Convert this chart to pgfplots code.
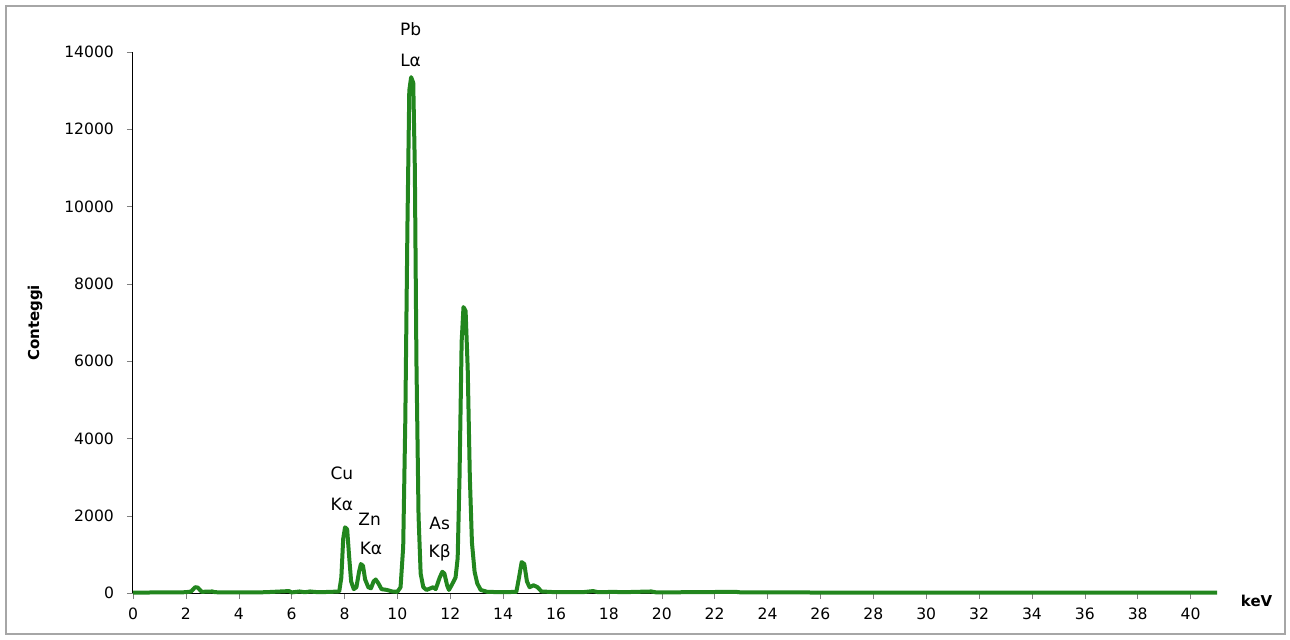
\documentclass[border=0pt]{standalone}
\usepackage{pgfplots}
\pgfplotsset{compat=1.18}
\usepackage{fontspec}
\setmainfont{DejaVu Sans}
\definecolor{sg}{RGB}{34,134,30}
\begin{document}
\begin{tikzpicture}
\useasboundingbox (-66.5pt,-23pt) rectangle (578.5pt,296.5pt);
\draw[gray!70,line width=0.8pt] (-63.5pt,-20.5pt) rectangle (576pt,293.5pt);
\begin{axis}[at={(0,0)},anchor=origin,scale only axis,width=542pt,height=270.5pt,
 xmin=0,xmax=41,ymin=0,ymax=14000,
 axis x line=bottom, axis y line=left, axis line style={-,line width=0.5pt},
 xtick={0,2,...,40}, ytick={0,2000,...,14000},
 tick align=outside, major tick length=3pt,
 tick label style={font=\fontsize{7.8}{9}\selectfont},
 /pgf/number format/assume math mode=true,
 scaled y ticks=false, yticklabel style={/pgf/number format/1000 sep={},xshift=-3pt},
 xticklabel style={yshift=-1pt},
 clip=false]
\addplot[sg,line width=2pt,line join=round] coordinates {
(0,10)(1,15)(2,20)(2.2,40)(2.35,150)(2.45,140)(2.6,30)(3,40)(3.1,20)(4,15)(5,20)(5.9,50)(6,15)(6.3,40)(6.5,20)(6.7,40)(7,20)(7.5,30)(7.8,40)
(7.88,400)(7.95,1400)(8.02,1700)(8.1,1650)(8.18,900)(8.25,300)(8.35,100)(8.45,150)(8.55,550)(8.62,750)(8.7,700)(8.78,350)(8.9,150)(9.0,120)
(9.1,300)(9.18,350)(9.28,250)(9.4,100)(9.6,80)(9.8,40)(10.0,30)(10.12,150)(10.22,1200)(10.3,4500)(10.38,9500)(10.45,13000)(10.52,13350)(10.6,13200)(10.66,11000)(10.72,6000)(10.8,2000)(10.88,500)(10.98,150)(11.1,80)
(11.25,120)(11.35,150)(11.45,100)(11.6,400)(11.7,550)(11.78,500)(11.88,200)(11.95,80)(12.05,200)(12.2,400)(12.28,900)(12.35,3000)(12.43,6500)(12.5,7400)(12.58,7300)(12.66,5800)(12.74,3000)(12.82,1300)(12.92,550)(13.02,250)(13.15,80)(13.4,30)
(14,20)(14.5,30)(14.6,400)(14.7,800)(14.8,750)(14.9,300)(15.0,150)(15.15,200)(15.3,150)(15.45,40)(16,20)(17,20)(17.4,50)(17.6,20)(18.2,30)(18.5,20)(19.6,40)(19.8,15)(22.8,30)(23,15)(30,10)(41,10)};
\node[font=\fontsize{8.5}{10}\selectfont] at (axis cs:10.5,14580) {Pb};
\node[font=\fontsize{8.5}{10}\selectfont] at (axis cs:10.5,13780) {Lα};
\node[font=\fontsize{8.5}{10}\selectfont] at (axis cs:7.9,3100) {Cu};
\node[font=\fontsize{8.5}{10}\selectfont] at (axis cs:7.9,2300) {Kα};
\node[font=\fontsize{8.5}{10}\selectfont] at (axis cs:8.95,1900) {Zn};
\node[font=\fontsize{8.5}{10}\selectfont] at (axis cs:9.0,1150) {Kα};
\node[font=\fontsize{8.5}{10}\selectfont] at (axis cs:11.6,1800) {As};
\node[font=\fontsize{8.5}{10}\selectfont] at (axis cs:11.6,1050) {Kβ};
\node[font=\bfseries\fontsize{7.5}{9}\selectfont] at (axis cs:42.5,-200) {keV};
\node[font=\bfseries\fontsize{7.5}{9}\selectfont,rotate=90] at (-49pt,135pt) {Conteggi};
\end{axis}
\end{tikzpicture}
\end{document}
